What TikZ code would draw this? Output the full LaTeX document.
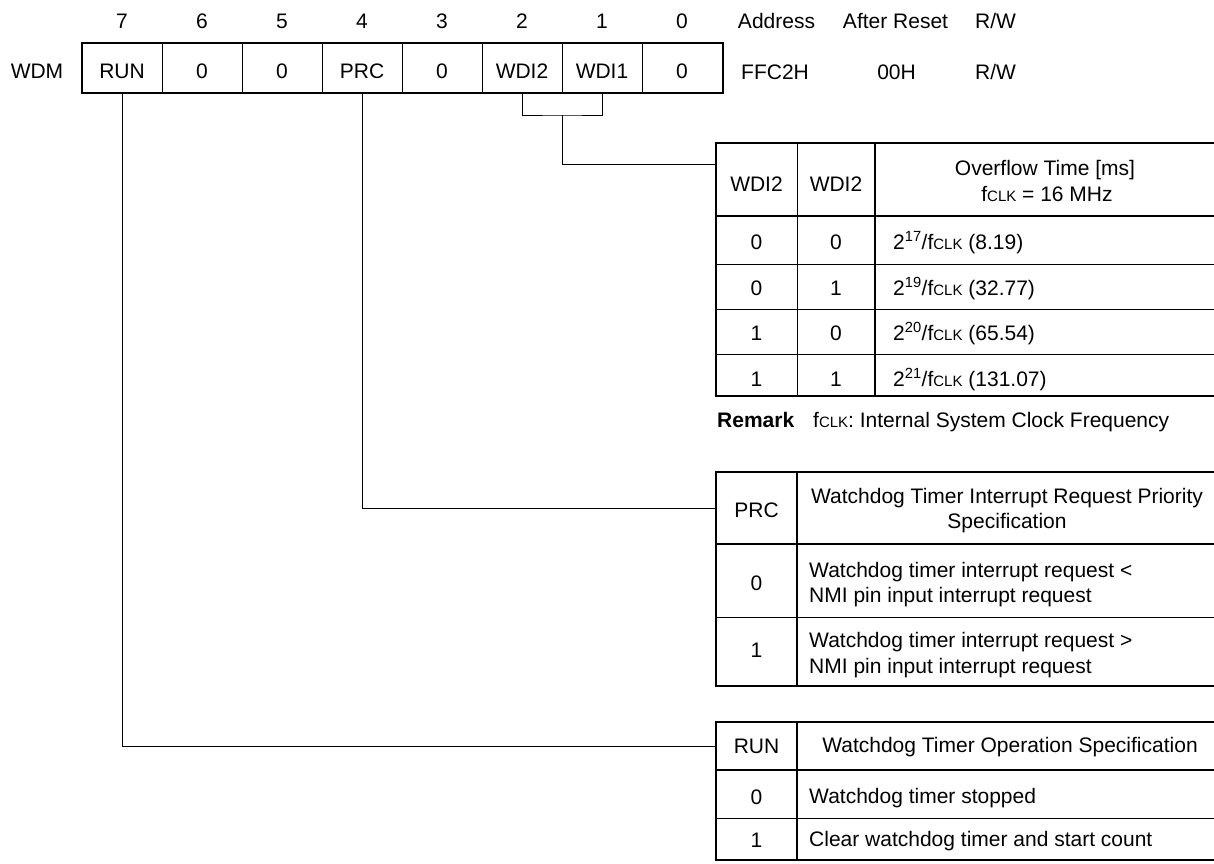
\documentclass[tikz,border=0pt]{standalone}
\usepackage{fontspec}
\setmainfont{Liberation Sans}
\newcommand\fclk{f{\fontsize{15}{15}\selectfont CLK}}
\begin{document}
\begin{tikzpicture}[x=1pt,y=-1pt,
  font=\fontsize{21}{25}\selectfont,
  thinline/.style={line width=0.9pt},
  thickline/.style={line width=2.4pt},
  conn/.style={line width=0.9pt},
  cellbox/.style 2 args={draw, line width=0.9pt, anchor=north west, inner sep=0pt,
    minimum width=#1*1pt, minimum height=#2*1pt},
  lbl/.style={anchor=base, inner sep=0pt},
  lbll/.style={anchor=base west, inner sep=0pt}]
\clip (0,0) rectangle (1214,863);
\fill[white] (0,0) rectangle (1214,863);

% ---------- register ----------
\node[lbl] (wdm) at (37,78.5) {WDM};
\foreach \i/\nm/\txt in {0/r7/RUN,1/r6/0,2/r5/0,3/r4/PRC,4/r3/0,5/r2/WDI2,6/r1/WDI1,7/r0/0}{
  \pgfmathtruncatemacro{\bit}{7-\i}
  \node[cellbox={80}{49}] (\nm) at ({82+80*\i},43) {};
  \node[lbl] (\nm t) at ({122+80*\i},78.5) {\txt};
  \node[lbl] (\nm n) at ({122+80*\i},28.5) {\bit};
}
\draw[thickline] (r7.north west) rectangle (r0.south east);

\node[lbl] (haddr) at (776.5,28.5) {Address};
\node[lbl] (hreset) at (895.5,28.5) {After Reset};
\node[lbl] (hrw) at (995.5,28.5) {R/W};
\node[lbl] (vaddr) at (775,79.5) {FFC2H};
\node[lbl] (vreset) at (896.5,79.5) {00H};
\node[lbl] (vrw) at (995.5,79.5) {R/W};

% ---------- table 1 (WDI) ----------
\foreach \r/\ya/\h in {h/143/73, a/216/48, b/264/45, c/309/45, d/354/42}{
  \node[cellbox={81}{\h}] (t1\r1) at (716,\ya) {};
  \node[cellbox={78}{\h}] (t1\r2) at (797,\ya) {};
  \node[cellbox={345}{\h}] (t1\r3) at (875,\ya) {};
}
\draw[thickline] (716,143) rectangle (1220,396);
\draw[thickline] (716,216) -- (1220,216);
\draw[thickline] (875,143) -- (875,396);

\node[lbl] (t1h1t) at (756.5,191.5) {WDI2};
\node[lbl] (t1h2t) at (836,191.5) {WDI2};
\node[lbl] (t1h3t) at (1045,175) {Overflow Time [ms]};
\node[lbl] (t1h3u) at (1047,201) {\fclk{} = 16 MHz};
\foreach \r/\yb/\a/\b/\e/\v in {a/249.5/0/0/17/8.19, b/295.5/0/1/19/32.77, c/340.5/1/0/20/65.54, d/386.5/1/1/21/131.07}{
  \node[lbl] (t1\r1t) at (756.5,\yb) {\a};
  \node[lbl] (t1\r2t) at (836,\yb) {\b};
  \node[lbll] (t1\r3t) at (893,\yb) {2\textsuperscript{\e}/\fclk{} (\v)};
}
\node[lbll] (remark) at (717,427) {\bfseries Remark};
\node[lbll] (remarkt) at (813,427) {\fclk: Internal System Clock Frequency};

% ---------- table 2 (PRC) ----------
\foreach \r/\ya/\h in {h/472/72, a/544/73, b/617/69}{
  \node[cellbox={81}{\h}] (t2\r1) at (716,\ya) {};
  \node[cellbox={423}{\h}] (t2\r2) at (797,\ya) {};
}
\draw[thickline] (716,472) rectangle (1220,686);
\draw[thickline] (716,544) -- (1220,544);
\draw[thickline] (797,472) -- (797,686);

\node[lbl] (t2h1t) at (756.5,517) {PRC};
\node[lbl] (t2h2t) at (1007,503) {Watchdog Timer Interrupt Request Priority};
\node[lbl] (t2h2u) at (1007,528) {Specification};
\node[lbl] (t2a1t) at (756.5,590) {0};
\node[lbll] (t2a2t) at (809,577) {Watchdog timer interrupt request <};
\node[lbll] (t2a2u) at (809,602) {NMI pin input interrupt request};
\node[lbl] (t2b1t) at (756.5,657) {1};
\node[lbll] (t2b2t) at (809,647) {Watchdog timer interrupt request >};
\node[lbll] (t2b2u) at (809,673) {NMI pin input interrupt request};

% ---------- table 3 (RUN) ----------
\foreach \r/\ya/\h in {h/722/48, a/770/48, b/818/42}{
  \node[cellbox={81}{\h}] (t3\r1) at (716,\ya) {};
  \node[cellbox={423}{\h}] (t3\r2) at (797,\ya) {};
}
\draw[thickline] (716,722) rectangle (1220,860);
\draw[thickline] (716,770) -- (1220,770);
\draw[thickline] (797,722) -- (797,860);

\node[lbl] (t3h1t) at (756.5,753.5) {RUN};
\node[lbl] (t3h2t) at (1010,752) {Watchdog Timer Operation Specification};
\node[lbl] (t3a1t) at (756.5,804.5) {0};
\node[lbll] (t3a2t) at (809,803) {Watchdog timer stopped};
\node[lbl] (t3b1t) at (756.5,847.5) {1};
\node[lbll] (t3b2t) at (809,846) {Clear watchdog timer and start count};

% ---------- connectors ----------
\coordinate (wdimid) at (562,115);
\coordinate (t1in) at (716,164);
\draw[conn] (r2.south) |- (wdimid) -| (r1.south);
\draw[conn] (wdimid) |- (t1in);
\draw[conn] (r4.south) |- (t2h1.west);
\draw[conn] (r7.south) |- (t3h1.west);
\end{tikzpicture}
\end{document}
